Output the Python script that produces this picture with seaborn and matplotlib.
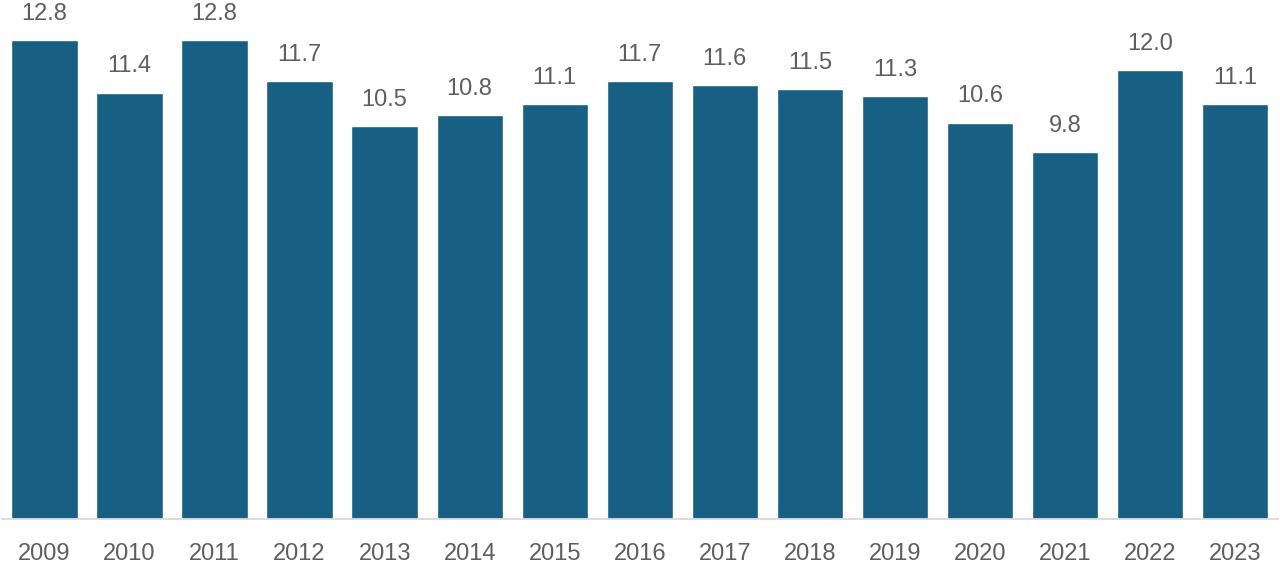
import matplotlib
matplotlib.use("Agg")
import matplotlib.pyplot as plt
import seaborn as sns
import pandas as pd

years = ["2009", "2010", "2011", "2012", "2013", "2014", "2015", "2016",
         "2017", "2018", "2019", "2020", "2021", "2022", "2023"]
values = [12.8, 11.4, 12.8, 11.7, 10.5, 10.8, 11.1, 11.7,
          11.6, 11.5, 11.3, 10.6, 9.8, 12.0, 11.1]

sns.set_theme(style="white")
plt.rcParams["font.family"] = ["Liberation Sans", "DejaVu Sans"]

df = pd.DataFrame({"year": years, "value": values})

W, H = 1280, 563
fig = plt.figure(figsize=(W / 100, H / 100), dpi=100)
ax = fig.add_axes([2 / W, (H - 519) / H, 1275.5 / W, 519 / H])

sns.barplot(data=df, x="year", y="value", color="#175f83", saturation=1,
            width=0.78, ax=ax)

ax.set_xlim(-0.5, len(years) - 0.5)
ax.set_ylim(0, 519 / 37.4)

for c in ax.containers:
    ax.bar_label(c, fmt="%.1f", padding=11, fontsize=17, color="#5e5e5e")

for s in ["top", "right", "left"]:
    ax.spines[s].set_visible(False)
ax.spines["bottom"].set_color("#d9d9d9")
ax.spines["bottom"].set_linewidth(1.3)
ax.set_yticks([])
ax.set_xlabel("")
ax.set_ylabel("")
ax.tick_params(axis="x", length=0, pad=17, labelsize=17, labelcolor="#5e5e5e")

fig.savefig("out.png", dpi=100)
